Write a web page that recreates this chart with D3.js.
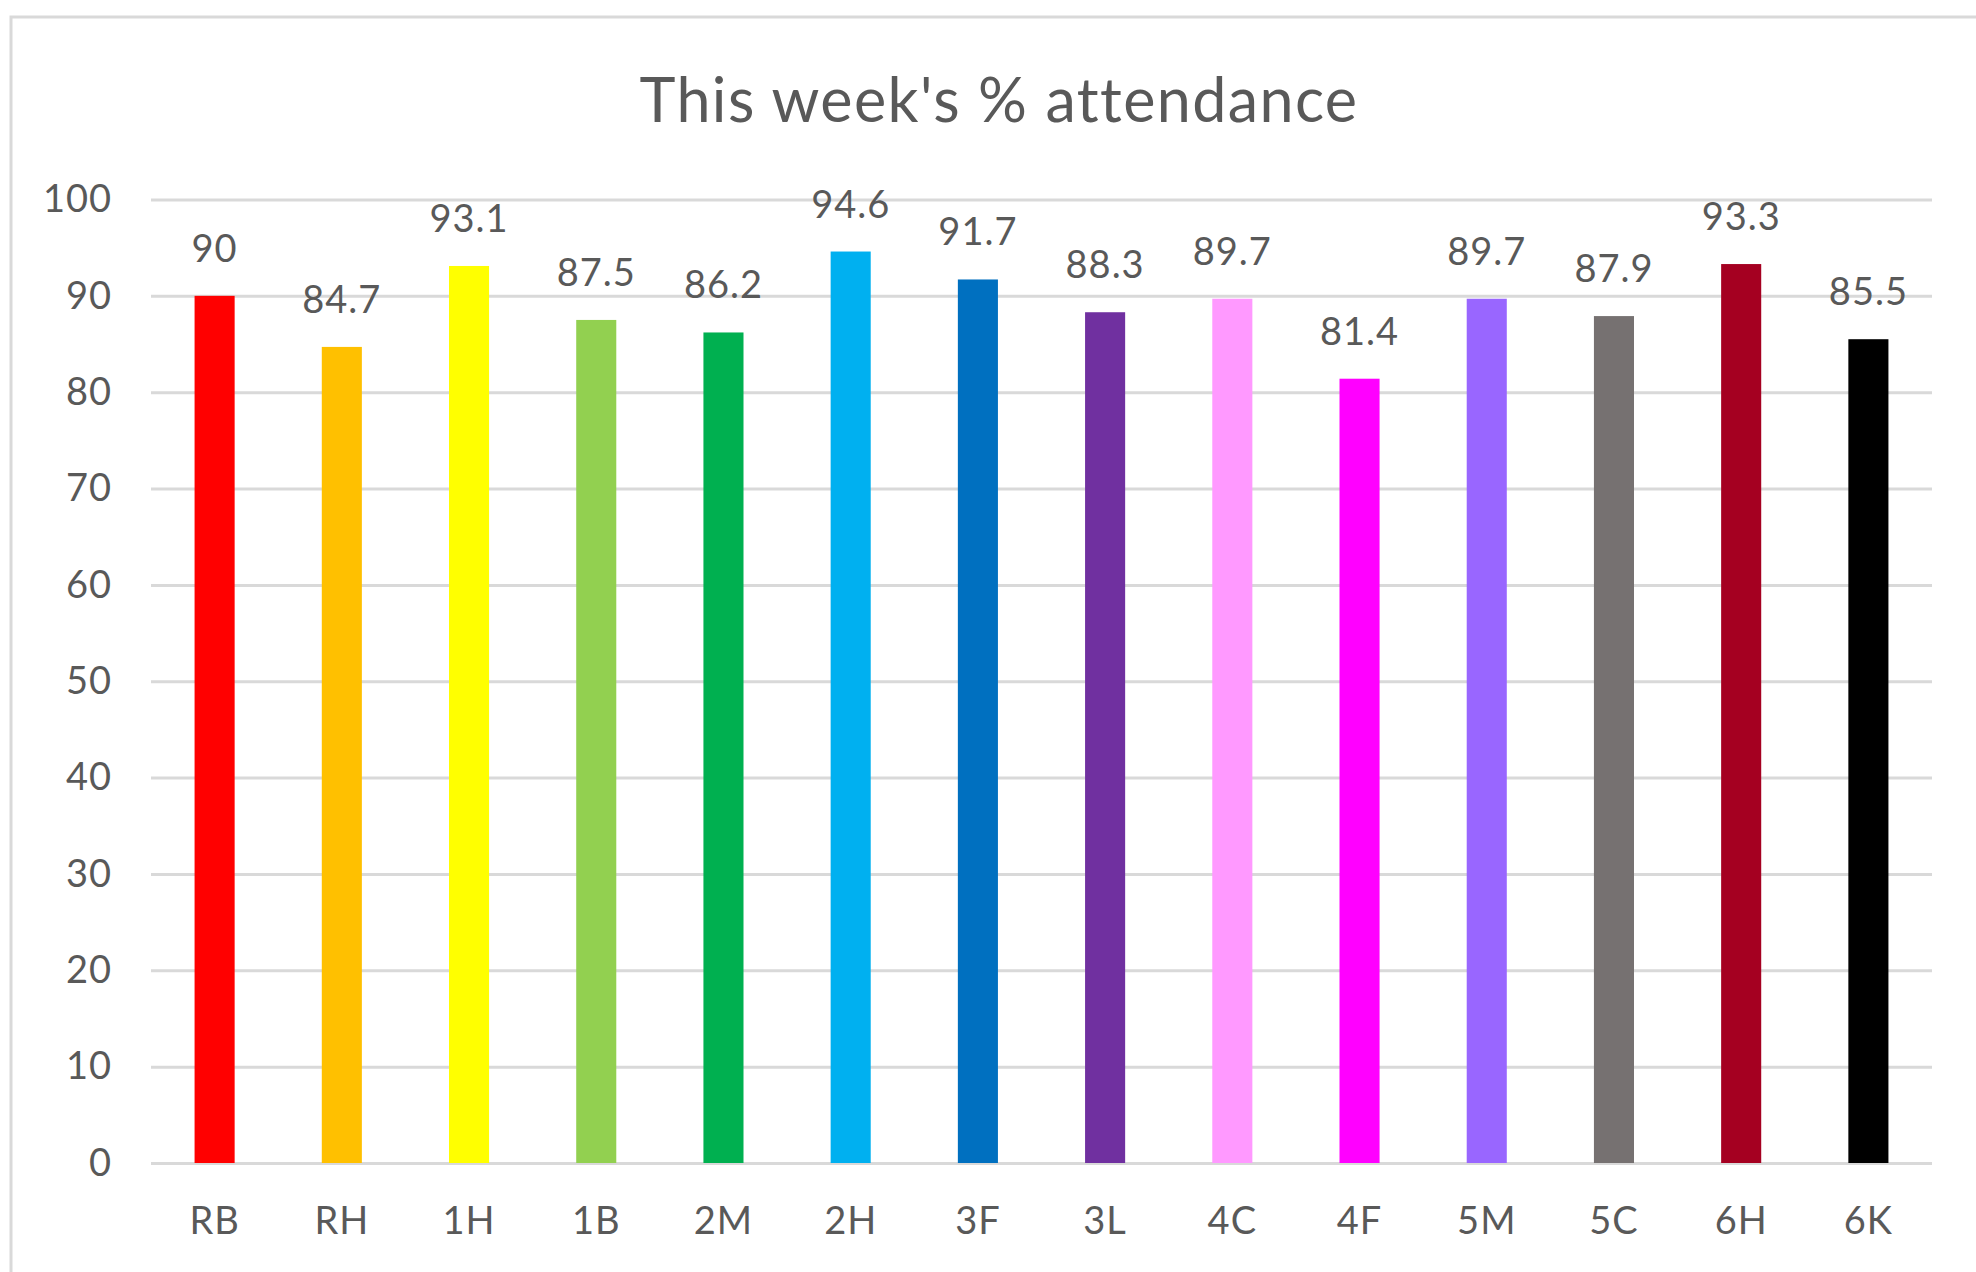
<!DOCTYPE html>
<html>
<head>
<script src="https://d3js.org/d3.v7.min.js"></script>
<style>
  body { margin: 0; background: #fff; }
  svg text { font-family: Lato, "Open Sans", sans-serif; fill: #595959; letter-spacing: 1px; }
  .axis .domain { display: none; }
  .y .tick line { stroke: #d9d9d9; stroke-width: 3; }
</style>
</head>
<body>
<script>
// chart data
const classes = ["RB", "RH", "1H", "1B", "2M", "2H", "3F", "3L", "4C", "4F", "5M", "5C", "6H", "6K"];
const attendance = [90, 84.7, 93.1, 87.5, 86.2, 94.6, 91.7, 88.3, 89.7, 81.4, 89.7, 87.9, 93.3, 85.5];
const barColors = ["#FF0000", "#FFC000", "#FFFF00", "#92D050", "#00B050", "#00B0F0", "#0070C0",
                   "#7030A0", "#FF99FF", "#FF00FF", "#9966FF", "#767171", "#A50021", "#000000"];
const yTicks = [0, 10, 20, 30, 40, 50, 60, 70, 80, 90, 100];

const W = 1976, H = 1272;
const margin = {top: 199.5, right: 44, bottom: 109, left: 151};
const width = W - margin.left - margin.right,
      height = H - margin.top - margin.bottom;

const data = classes.map((c, i) => ({name: c, value: attendance[i], color: barColors[i]}));

const root = d3.select("body").append("svg")
    .attr("width", W)
    .attr("height", H);

// outer chart frame (runs off the right / bottom of the picture)
root.append("rect")
    .attr("x", 11).attr("y", 17)
    .attr("width", 2200).attr("height", 1500)
    .attr("fill", "none")
    .attr("stroke", "#d9d9d9")
    .attr("stroke-width", 3);

root.append("text")
    .attr("x", 999)
    .attr("y", 122)
    .attr("text-anchor", "middle")
    .style("font-size", "61px")
    .style("letter-spacing", "1.4px")
    .text("This week's % attendance");

const svg = root.append("g")
    .attr("transform", `translate(${margin.left},${margin.top})`);

const x = d3.scaleBand()
    .domain(classes)
    .range([0, width])
    .paddingInner(0.685)
    .paddingOuter(0.3425);

const y = d3.scaleLinear()
    .domain([0, 100])
    .range([height, 0]);

const yAxis = d3.axisLeft(y)
    .tickValues(yTicks)
    .tickSize(-width)
    .tickPadding(39);

svg.append("g")
    .attr("class", "y axis")
    .call(yAxis)
    .selectAll("text")
    .style("font-size", "38px");

const xAxis = d3.axisBottom(x)
    .tickSize(0);

svg.append("g")
    .attr("class", "x axis")
    .attr("transform", `translate(0,${height})`)
    .call(xAxis)
    .selectAll("text")
    .attr("dy", null)
    .attr("y", 71)
    .style("font-size", "38px");

svg.selectAll(".bar")
    .data(data)
  .enter().append("rect")
    .attr("class", "bar")
    .attr("x", d => x(d.name))
    .attr("width", x.bandwidth())
    .attr("y", d => y(d.value))
    .attr("height", d => height - y(d.value))
    .attr("fill", d => d.color);

svg.selectAll(".label")
    .data(data)
  .enter().append("text")
    .attr("class", "label")
    .attr("x", d => x(d.name) + x.bandwidth() / 2)
    .attr("y", d => y(d.value) - 34)
    .attr("text-anchor", "middle")
    .style("font-size", "38px")
    .text(d => d.value);
</script>
</body>
</html>
